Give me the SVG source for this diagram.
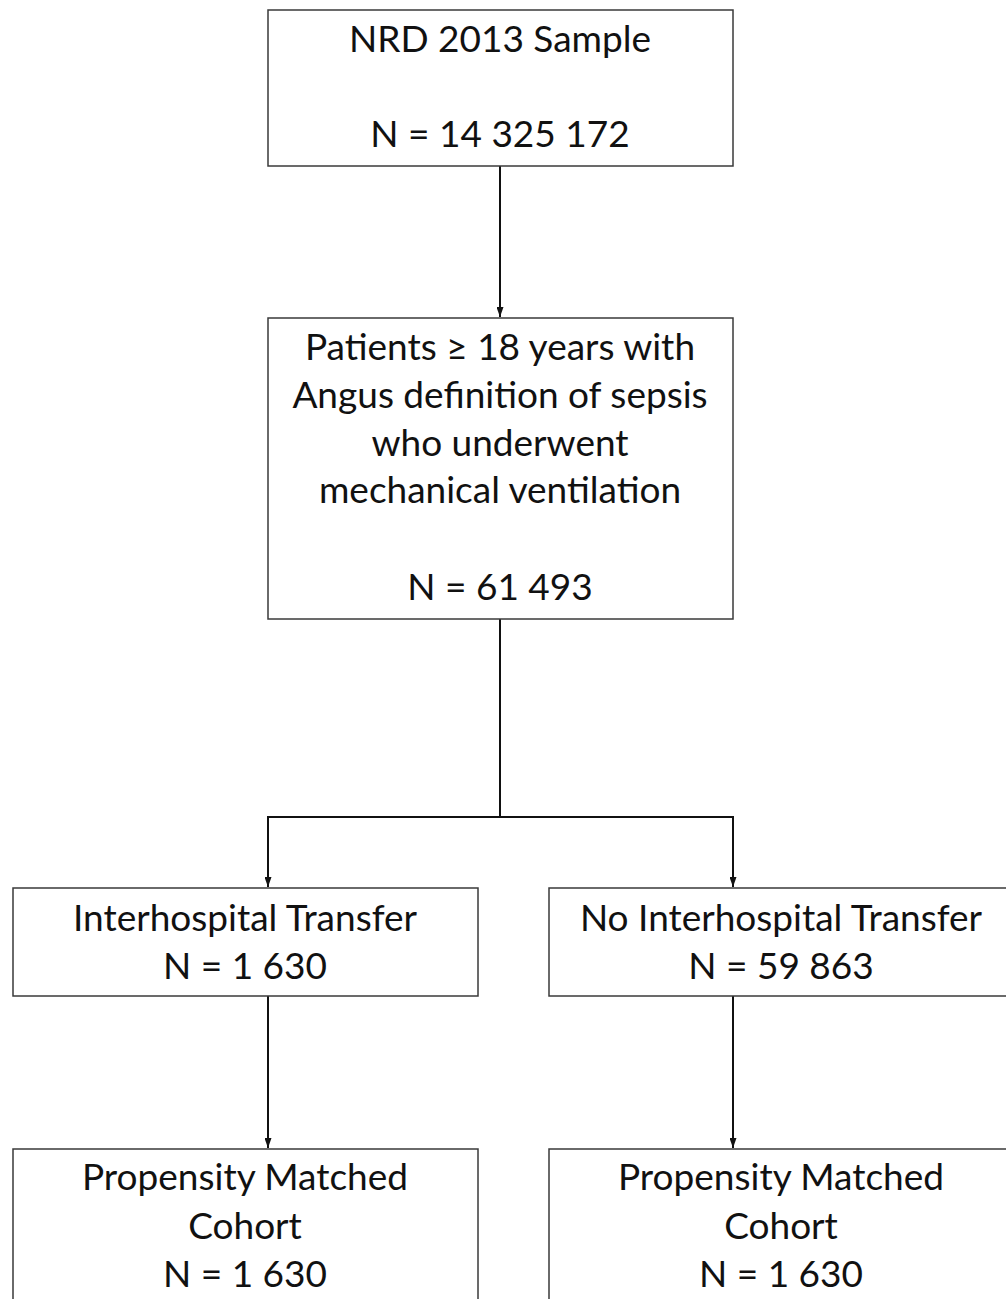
<svg xmlns="http://www.w3.org/2000/svg" width="1006" height="1299" viewBox="0 0 1006 1299">
<style>
.box{fill:#fff;stroke:#3a3a3a;stroke-width:1.5}
.t{font-family:Lato,"Liberation Sans",sans-serif;font-size:37px;fill:#111;text-anchor:middle}
.c{fill:none;stroke:#111;stroke-width:2}
</style>
<defs>
<marker id="ah" viewBox="0 0 10 7" refX="10" refY="3.5" markerWidth="5" markerHeight="3.5" orient="auto" markerUnits="strokeWidth">
<path d="M0,0 L10,3.5 L0,7 z" fill="#111"/>
</marker>
</defs>
<rect width="1006" height="1299" fill="#fff"/>
<g id="connectors">
<line class="c" x1="500" y1="166" x2="500" y2="317" marker-end="url(#ah)"/>
<line class="c" x1="500" y1="619" x2="500" y2="817"/>
<line class="c" x1="267" y1="817" x2="734" y2="817"/>
<line class="c" x1="268" y1="817" x2="268" y2="887" marker-end="url(#ah)"/>
<line class="c" x1="733" y1="817" x2="733" y2="887" marker-end="url(#ah)"/>
<line class="c" x1="268" y1="996" x2="268" y2="1148" marker-end="url(#ah)"/>
<line class="c" x1="733" y1="996" x2="733" y2="1148" marker-end="url(#ah)"/>
</g>
<g id="n1">
<rect class="box" x="268" y="10" width="465" height="156"/>
<text class="t" x="500" y="52">NRD 2013 Sample</text>
<text class="t" x="500" y="147">N = 14 325 172</text>
</g>
<g id="n2">
<rect class="box" x="268" y="318" width="465" height="301"/>
<text class="t" x="500" y="360">Patients ≥ 18 years with</text>
<text class="t" x="500" y="408">Angus definition of sepsis</text>
<text class="t" x="500" y="456">who underwent</text>
<text class="t" x="500" y="503">mechanical ventilation</text>
<text class="t" x="500" y="600">N = 61 493</text>
</g>
<g id="n3">
<rect class="box" x="13" y="888" width="465" height="108"/>
<text class="t" x="245" y="931">Interhospital Transfer</text>
<text class="t" x="245" y="979">N = 1 630</text>
</g>
<g id="n4">
<rect class="box" x="549" y="888" width="465" height="108"/>
<text class="t" x="781" y="931">No Interhospital Transfer</text>
<text class="t" x="781" y="979">N = 59 863</text>
</g>
<g id="n5">
<rect class="box" x="13" y="1149" width="465" height="170"/>
<text class="t" x="245" y="1190">Propensity Matched</text>
<text class="t" x="245" y="1239">Cohort</text>
<text class="t" x="245" y="1287">N = 1 630</text>
</g>
<g id="n6">
<rect class="box" x="549" y="1149" width="465" height="170"/>
<text class="t" x="781" y="1190">Propensity Matched</text>
<text class="t" x="781" y="1239">Cohort</text>
<text class="t" x="781" y="1287">N = 1 630</text>
</g>
</svg>
